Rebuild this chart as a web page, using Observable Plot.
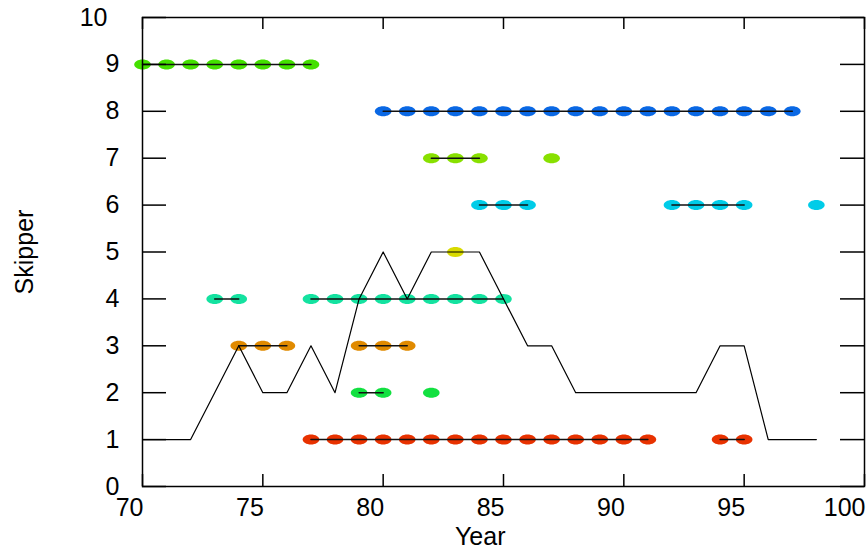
<!DOCTYPE html>
<html>
<head>
<meta charset="utf-8">
<script src="https://cdn.jsdelivr.net/npm/d3@7"></script>
<script src="https://cdn.jsdelivr.net/npm/@observablehq/plot@0.6"></script>
<style>
  html, body { margin: 0; padding: 0; background: #fff; }
  svg { display: block; }
</style>
</head>
<body>
<div id="chart"></div>
<script>
// ---- data ----
const skippers = [1, 2, 3, 4, 5, 6, 7, 8, 9];
const skipperColors = ["#e83200", "#12e040", "#e08a00", "#14e2a0", "#d8da00", "#00cce8", "#88e000", "#0a68e4", "#44e000"];
const years1 = [77, 78, 79, 80, 81, 82, 83, 84, 85, 86, 87, 88, 89, 90, 91, 94, 95];
const years2 = [79, 80, 82];
const years3 = [74, 75, 76, 79, 80, 81];
const years4 = [73, 74, 77, 78, 79, 80, 81, 82, 83, 84, 85];
const years5 = [83];
const years6 = [84, 85, 86, 92, 93, 94, 95, 98];
const years7 = [82, 83, 84, 87];
const years8 = [80, 81, 82, 83, 84, 85, 86, 87, 88, 89, 90, 91, 92, 93, 94, 95, 96, 97];
const years9 = [70, 71, 72, 73, 74, 75, 76, 77];
const countYears = [70, 71, 72, 73, 74, 75, 76, 77, 78, 79, 80, 81, 82, 83, 84, 85, 86, 87, 88, 89, 90, 91, 92, 93, 94, 95, 96, 97, 98];
const counts =     [1, 1, 1, 2, 3, 2, 2, 3, 2, 4, 5, 4, 5, 5, 5, 4, 3, 3, 2, 2, 2, 2, 2, 2, 3, 3, 1, 1, 1];
const xTicks = [70, 75, 80, 85, 90, 95, 100];
const yTicks = [0, 1, 2, 3, 4, 5, 6, 7, 8, 9, 10];

// ---- build tables ----
const yearLists = [years1, years2, years3, years4, years5, years6, years7, years8, years9];
const points = [];
yearLists.forEach((ys, i) => {
  let run = 0;
  ys.forEach((y, j) => {
    if (j > 0 && y - ys[j - 1] !== 1) run++;
    points.push({skipper: skippers[i], year: y, run: skippers[i] + "-" + run});
  });
});
const runSizes = d3.rollup(points, v => v.length, d => d.run);
const runPoints = points.filter(d => runSizes.get(d.run) > 1);
const countData = countYears.map((y, i) => ({year: y, count: counts[i]}));

const ellipse = {
  draw(ctx) {
    const rx = 8.3, ry = 5, k = 0.5523;
    ctx.moveTo(rx, 0);
    ctx.bezierCurveTo(rx, ry * k, rx * k, ry, 0, ry);
    ctx.bezierCurveTo(-rx * k, ry, -rx, ry * k, -rx, 0);
    ctx.bezierCurveTo(-rx, -ry * k, -rx * k, -ry, 0, -ry);
    ctx.bezierCurveTo(rx * k, -ry, rx, -ry * k, rx, 0);
    ctx.closePath();
  }
};

const W = 868, H = 554, mt = 17, mr = 4, mb = 68, ml = 142;
const pw = W - ml - mr, ph = H - mt - mb;
const font = 25;

const chart = Plot.plot({
  width: W, height: H,
  marginTop: mt, marginRight: mr, marginBottom: mb, marginLeft: ml,
  style: {fontFamily: "'Liberation Sans', Arial, sans-serif", background: "#fff", color: "#000"},
  x: {domain: [70, 100], axis: null},
  y: {domain: [0, 10], axis: null},
  color: {domain: skippers, range: skipperColors},
  marks: [
    Plot.dot(points, {x: "year", y: "skipper", fill: "skipper", symbol: ellipse, r: 5, stroke: null}),
    Plot.line(runPoints, {x: "year", y: "skipper", z: "run", stroke: "#111", strokeWidth: 1.5}),
    Plot.line(countData, {x: "year", y: "count", stroke: "#000", strokeWidth: 1.2}),
    Plot.frame({stroke: "#000", strokeWidth: 1.5}),
    // inward ticks on all four sides
    Plot.ruleX(xTicks, {x: d => d, insetTop: ph - 12, stroke: "#000", strokeWidth: 1.5}),
    Plot.ruleX(xTicks, {x: d => d, insetBottom: ph - 12, stroke: "#000", strokeWidth: 1.5}),
    Plot.ruleY(yTicks, {y: d => d, insetRight: pw - 24, stroke: "#000", strokeWidth: 1.5}),
    Plot.ruleY(yTicks, {y: d => d, insetLeft: pw - 24, stroke: "#000", strokeWidth: 1.5}),
    // tick labels
    Plot.text(xTicks, {x: d => d, text: d => String(d), frameAnchor: "bottom", textAnchor: "end", lineAnchor: "top", dy: 12, dx: 1, fontSize: font, fill: "#000"}),
    Plot.text(yTicks.filter(d => d < 10), {y: d => d, text: d => String(d), frameAnchor: "left", textAnchor: "end", dx: -23, fontSize: font, fill: "#000"}),
    Plot.text(yTicks.filter(d => d >= 10), {y: d => d, text: d => String(d), frameAnchor: "left", textAnchor: "end", dx: -35, fontSize: font, fill: "#000"}),
    // axis titles
    Plot.text(["Year"], {text: d => d, frameAnchor: "bottom", textAnchor: "end", lineAnchor: "top", dy: 41, dx: 2, fontSize: font, fill: "#000"}),
    Plot.text(["Skipper"], {text: d => d, frameAnchor: "left", rotate: -90, textAnchor: "middle", dx: -118, fontSize: font, fill: "#000"})
  ]
});
document.getElementById("chart").appendChild(chart);
</script>
</body>
</html>
